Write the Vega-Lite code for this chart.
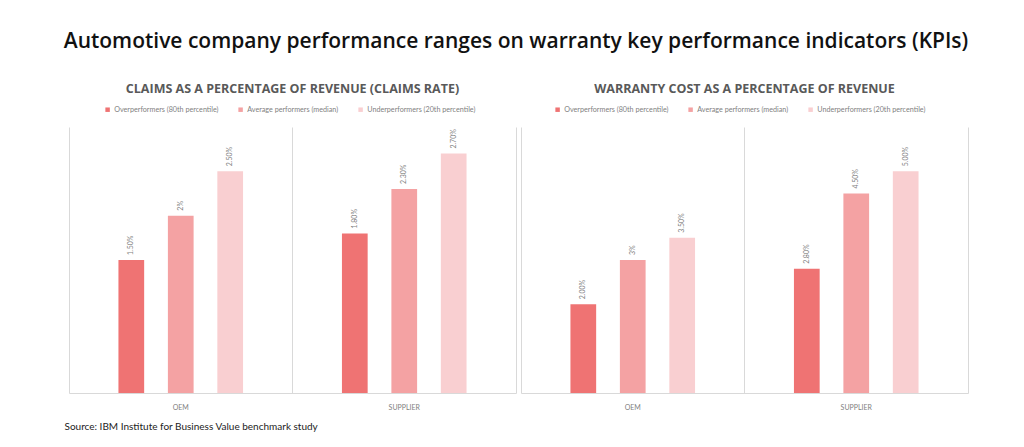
{
  "$schema": "https://vega.github.io/schema/vega-lite/v6.json",
  "background": "white",
  "padding": {"left": 63, "top": 30, "right": 10, "bottom": 5},
  "title": {
    "text": "Automotive company performance ranges on warranty key performance indicators (KPIs)",
    "font": "Open Sans",
    "fontSize": 21,
    "fontWeight": 600,
    "color": "#111111",
    "anchor": "middle",
    "offset": 31
  },
  "datasets": {
    "claims": [
      {"segment": "OEM", "performer": "Overperformers (80th percentile)", "value": 1.5, "label": "1.50%"},
      {"segment": "OEM", "performer": "Average performers (median)", "value": 2.0, "label": "2%"},
      {"segment": "OEM", "performer": "Underperformers (20th percentile)", "value": 2.5, "label": "2.50%"},
      {"segment": "SUPPLIER", "performer": "Overperformers (80th percentile)", "value": 1.8, "label": "1.80%"},
      {"segment": "SUPPLIER", "performer": "Average performers (median)", "value": 2.3, "label": "2.30%"},
      {"segment": "SUPPLIER", "performer": "Underperformers (20th percentile)", "value": 2.7, "label": "2.70%"}
    ],
    "cost": [
      {"segment": "OEM", "performer": "Overperformers (80th percentile)", "value": 2.0, "label": "2.00%"},
      {"segment": "OEM", "performer": "Average performers (median)", "value": 3.0, "label": "3%"},
      {"segment": "OEM", "performer": "Underperformers (20th percentile)", "value": 3.5, "label": "3.50%"},
      {"segment": "SUPPLIER", "performer": "Overperformers (80th percentile)", "value": 2.8, "label": "2.80%"},
      {"segment": "SUPPLIER", "performer": "Average performers (median)", "value": 4.5, "label": "4.50%"},
      {"segment": "SUPPLIER", "performer": "Underperformers (20th percentile)", "value": 5.0, "label": "5.00%"}
    ]
  },
  "spacing": 5,
  "hconcat": [
    {
      "data": {"name": "claims"},
      "width": 447,
      "height": 266,
      "title": {"text": "CLAIMS AS A PERCENTAGE OF REVENUE (CLAIMS RATE)", "offset": 11},
      "encoding": {
        "x": {
          "field": "segment", "type": "nominal", "sort": ["OEM", "SUPPLIER"],
          "scale": {"paddingInner": 0, "paddingOuter": 0},
          "axis": {
            "title": "Source: IBM Institute for Business Value benchmark study",
            "titleAnchor": "start", "titleAlign": "left", "titleBaseline": "alphabetic",
            "titleX": -5, "titleY": 36, "titleFontSize": 10, "titleFontWeight": "normal",
            "titleColor": "#222222", "titleFont": "Lato"
          }
        },
        "xOffset": {
          "field": "performer", "type": "nominal",
          "sort": ["Overperformers (80th percentile)", "Average performers (median)", "Underperformers (20th percentile)"],
          "scale": {"paddingInner": 0.48, "paddingOuter": 1.17}
        },
        "y": {
          "field": "value", "type": "quantitative",
          "scale": {"domain": [0, 3], "nice": false},
          "axis": {"orient": "right", "labels": false, "ticks": false, "grid": false, "title": null, "domain": true, "domainColor": "#d9d9d9"}
        }
      },
      "layer": [
        {
          "mark": {"type": "bar"},
          "encoding": {
            "color": {
              "field": "performer", "type": "nominal",
              "scale": {
                "domain": ["Overperformers (80th percentile)", "Average performers (median)", "Underperformers (20th percentile)"],
                "range": ["#EF7373", "#F4A2A3", "#F9CFD1"]
              },
              "legend": {"orient": "none", "legendX": 35, "legendY": -21, "direction": "horizontal", "title": null}
            }
          }
        },
        {
          "mark": {"type": "text", "angle": -90, "align": "left", "baseline": "middle", "dx": 5, "fontSize": 7, "color": "#7f7f7f", "font": "Lato"},
          "encoding": {"text": {"field": "label"}}
        }
      ]
    },
    {
      "data": {"name": "cost"},
      "width": 447,
      "height": 266,
      "title": {"text": "WARRANTY COST AS A PERCENTAGE OF REVENUE", "offset": 11},
      "encoding": {
        "x": {
          "field": "segment", "type": "nominal", "sort": ["OEM", "SUPPLIER"],
          "scale": {"paddingInner": 0, "paddingOuter": 0},
          "axis": {"title": null}
        },
        "xOffset": {
          "field": "performer", "type": "nominal",
          "sort": ["Overperformers (80th percentile)", "Average performers (median)", "Underperformers (20th percentile)"],
          "scale": {"paddingInner": 0.48, "paddingOuter": 1.17}
        },
        "y": {
          "field": "value", "type": "quantitative",
          "scale": {"domain": [0, 6], "nice": false},
          "axis": {"orient": "right", "labels": false, "ticks": false, "grid": false, "title": null, "domain": true, "domainColor": "#d9d9d9"}
        }
      },
      "layer": [
        {
          "mark": {"type": "bar"},
          "encoding": {
            "color": {
              "field": "performer", "type": "nominal",
              "scale": {
                "domain": ["Overperformers (80th percentile)", "Average performers (median)", "Underperformers (20th percentile)"],
                "range": ["#EF7373", "#F4A2A3", "#F9CFD1"]
              },
              "legend": {"orient": "none", "legendX": 33, "legendY": -21, "direction": "horizontal", "title": null}
            }
          }
        },
        {
          "mark": {"type": "text", "angle": -90, "align": "left", "baseline": "middle", "dx": 5, "fontSize": 7, "color": "#7f7f7f", "font": "Lato"},
          "encoding": {"text": {"field": "label"}}
        }
      ]
    }
  ],
  "resolve": {"scale": {"color": "independent"}},
  "config": {
    "view": {"stroke": null},
    "title": {"font": "Open Sans", "fontSize": 12.5, "fontWeight": "bold", "color": "#595959", "anchor": "middle"},
    "axisX": {
      "bandPosition": 0, "grid": true, "gridColor": "#d9d9d9", "gridWidth": 1,
      "ticks": false, "domain": true, "domainColor": "#d9d9d9",
      "labelAngle": 0, "labelFont": "Lato", "labelFontSize": 7, "labelColor": "#7f7f7f", "labelPadding": 10
    },
    "legend": {
      "labelFont": "Lato", "labelFontSize": 7.2, "labelColor": "#7f7f7f",
      "symbolType": "square", "symbolSize": 20, "symbolStrokeWidth": 0,
      "columnPadding": 18, "labelOffset": 3, "labelLimit": 300
    }
  }
}
